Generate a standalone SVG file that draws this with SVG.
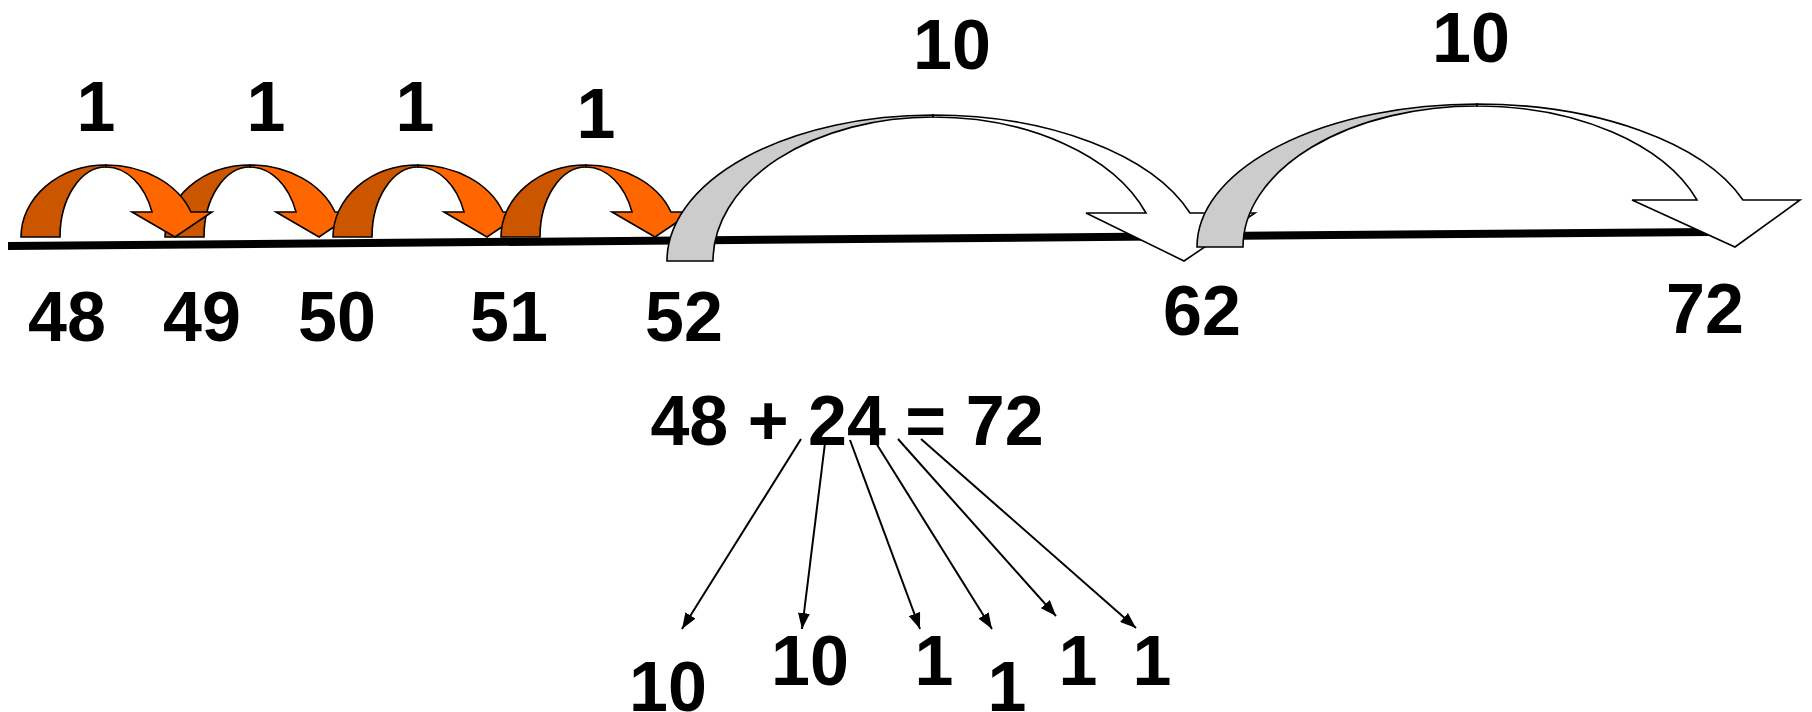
<svg xmlns="http://www.w3.org/2000/svg" xmlns:xlink="http://www.w3.org/1999/xlink" width="1812" height="712" viewBox="0 0 1812 712">
<style>
.t{font-family:"Liberation Sans",Arial,sans-serif;font-weight:bold;font-size:70px;fill:#000;text-anchor:middle}
.back{fill:#CC5500;stroke:#000;stroke-width:1.6;stroke-linejoin:miter}
.front{fill:#FF6600;stroke:#000;stroke-width:1.6;stroke-linejoin:miter}
.gback{fill:#CCCCCC;stroke:#000;stroke-width:1.6}
.gfront{fill:#FFFFFF;stroke:#000;stroke-width:1.6}
.ln{stroke:#000;stroke-width:2;fill:none;marker-end:url(#ah)}
</style>
<defs>
<marker id="ah" markerUnits="userSpaceOnUse" markerWidth="16" markerHeight="12" refX="16" refY="6" orient="auto">
<path d="M0,0 L16,6 L0,12 Z" fill="#000"/>
</marker>
<g id="orange">
<path class="back" d="M0,237 A85,72 0 0 1 85,165 L85,167 A46,70 0 0 0 39,237 Z"/>
<path class="front" d="M85,165 A90.6,72 0 0 1 170,212 L191,212 L154,237 L111,212 L131,212 A49,70 0 0 0 85,167 Z"/>
</g>
</defs>
<rect width="1812" height="712" fill="#fff"/>
<g id="numberline">
<path d="M8,246 L1710,232" stroke="#000" stroke-width="8"/>
</g>
<g id="jump2"><use xlink:href="#orange" href="#orange" transform="translate(165,0)"/></g>
<g id="jump1"><use xlink:href="#orange" href="#orange" transform="translate(21,0)"/></g>
<g id="jump3"><use xlink:href="#orange" href="#orange" transform="translate(333,0)"/></g>
<g id="jump4"><use xlink:href="#orange" href="#orange" transform="translate(501,0)"/></g>
<g id="jump10a">
<path class="gback" d="M667,261 A266,146 0 0 1 933,115 L933,117 A220,144 0 0 0 713,261 Z"/>
<path class="gfront" d="M933,115 A272,146 0 0 1 1190,213 L1255,213 L1184,261 L1086,213 L1146,213 A226,144 0 0 0 933,117 Z"/>
</g>
<g id="jump10b">
<path class="gback" d="M1197,247 A280,143 0 0 1 1477,104 L1477,106 A234,141 0 0 0 1243,247 Z"/>
<path class="gfront" d="M1477,104 A282,143 0 0 1 1743,200 L1800,200 L1735,247 L1632,200 L1697,200 A233,141 0 0 0 1477,106 Z"/>
</g>
<g id="jumplabels">
<text class="t" x="96" y="131">1</text>
<text class="t" x="266" y="131">1</text>
<text class="t" x="415" y="131">1</text>
<text class="t" x="596" y="138">1</text>
<text class="t" x="952" y="69">10</text>
<text class="t" x="1471" y="62">10</text>
</g>
<g id="ticks">
<text class="t" x="67" y="341">48</text>
<text class="t" x="202" y="341">49</text>
<text class="t" x="337" y="341">50</text>
<text class="t" x="509" y="341">51</text>
<text class="t" x="684" y="341">52</text>
<text class="t" x="1202" y="335">62</text>
<text class="t" x="1705" y="333">72</text>
</g>
<g id="equation">
<text class="t" x="847" y="445">48 + 24 = 72</text>
</g>
<g id="parts">
<text class="t" x="668" y="711">10</text>
<text class="t" x="810" y="685">10</text>
<text class="t" x="934" y="685">1</text>
<text class="t" x="1007" y="711">1</text>
<text class="t" x="1078" y="685">1</text>
<text class="t" x="1152" y="685">1</text>
</g>
<g id="connectors">
<line class="ln" x1="801" y1="439" x2="682" y2="629"/>
<line class="ln" x1="825" y1="443" x2="802" y2="629"/>
<line class="ln" x1="850" y1="440" x2="920" y2="629"/>
<line class="ln" x1="876" y1="443" x2="992" y2="629"/>
<line class="ln" x1="898" y1="439" x2="1056" y2="616"/>
<line class="ln" x1="921" y1="439" x2="1136" y2="628"/>
</g>
</svg>
